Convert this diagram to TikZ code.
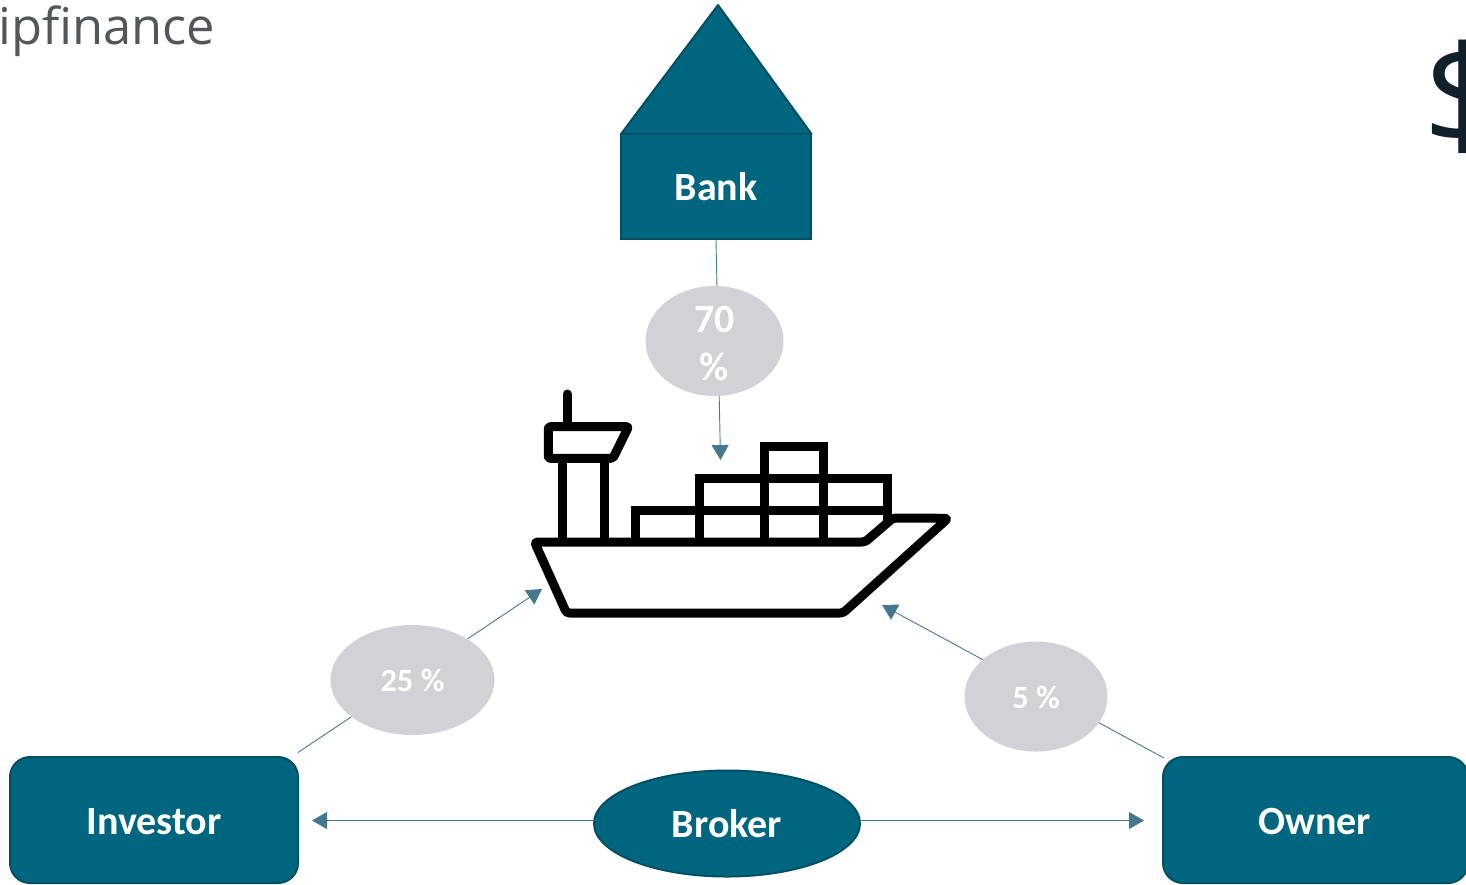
\documentclass[tikz,border=0pt]{standalone}
\usepackage{fontspec}
\setmainfont{Carlito}
\newfontfamily\titlefont{Open Sans}
\usetikzlibrary{arrows.meta,shapes.geometric}
\definecolor{teal}{HTML}{00667F}
\definecolor{tealdark}{HTML}{004F63}
\definecolor{linkc}{HTML}{45788F}
\definecolor{pill}{HTML}{D1D1D6}
\definecolor{titlec}{HTML}{53565A}
\definecolor{dollar}{HTML}{10212B}
\tikzset{
  actor/.style={draw=tealdark,line width=2pt,fill=teal,text=white,inner sep=0pt,anchor=center},
  actortext/.style={text=white,font=\fontsize{40}{40}\selectfont\bfseries,inner sep=0pt},
  pct/.style={ellipse,fill=pill,inner sep=0pt},
  pcttext/.style={text=white,font=\fontsize{32.5}{32.5}\selectfont\bfseries,inner sep=0pt},
  link/.style={draw=linkc,line width=0.9pt},
  tip/.style={-{Triangle[width=17pt,length=15pt,color=linkc]}},
  hull/.style={draw=black,line width=9pt,line join=round,line cap=round}
}
\begin{document}
\begin{tikzpicture}[x=1pt,y=-1pt]
\useasboundingbox (0,0) rectangle (1466,884);
\clip (0,0) rectangle (1466,884);
% anchors
\coordinate (shipTop) at (720.5,460);
\coordinate (shipLeft) at (542,589);
\coordinate (shipRight) at (882,605);
\coordinate (invEnd) at (298,752.5);
\coordinate (ownEnd) at (1164,758);
\coordinate (invTip) at (312,820.5);
\coordinate (ownTip) at (1144,820.5);
% texts
\node[anchor=base west,inner sep=0pt,text=titlec,font=\titlefont\fontsize{50.7}{50.7}\selectfont] (ttl) at (-2,44) {ipfinance};
\node[anchor=base west,inner sep=0pt,text=dollar,font=\titlefont\fontsize{139}{139}\selectfont] (usd) at (1423,145.5) {\$};
% bank
\draw[tealdark,line width=2pt,fill=teal,line join=round] (718,5) -- (811.5,134) -- (621,134) -- cycle;
\node[actor,minimum width=190pt,minimum height=105pt] (bank) at (716,186.5) {};
\node[actortext] (banktext) at (716,186.5) {Bank};
% actors
\node[actor,rounded corners=20pt,minimum width=288pt,minimum height=126pt] (investor) at (154,820) {};
\node[actortext] (investortext) at (154,822) {Investor};
\node[actor,rounded corners=20pt,minimum width=305pt,minimum height=126pt] (owner) at (1315.5,820) {};
\node[actortext] (ownertext) at (1314.5,822) {Owner};
\node[actor,ellipse,minimum width=266pt,minimum height=106pt] (broker) at (727,823.5) {};
\node[actortext] (brokertext) at (727,824) {Broker};
% connectors
\draw[link,tip] (bank.south) -- (shipTop);
\draw[link,tip] (invEnd) -- (shipLeft);
\draw[link,tip] (ownEnd) -- (shipRight);
\draw[link,tip] (broker.west |- invTip) -- (invTip);
\draw[link,tip] (broker.east |- ownTip) -- (ownTip);
% pills
\node[pct,minimum width=138pt,minimum height=110pt] (p70) at (714.5,341) {};
\node[pct,minimum width=164pt,minimum height=110pt] (p25) at (412.5,680) {};
\node[pct,minimum width=143pt,minimum height=110pt] (p5) at (1036,696.5) {};
\node[text=white,font=\fontsize{40}{48}\selectfont\bfseries,align=center,inner sep=0pt] (t70) at (714.5,343.5) {70\\\%};
\node[pcttext] (t25) at (412.5,680) {25 \%};
\node[pcttext] (t5) at (1036,697) {5 \%};
% ship
\draw[hull,rounded corners=3pt] (534.5,542) -- (865,542) -- (893,518) -- (948,518.3) -- (843,613) -- (566.5,613) -- cycle;
\draw[hull] (567,394) -- (567,426);
\draw[hull,rounded corners=2pt] (548.3,426.7) -- (628.5,426.7) -- (613,458.3) -- (548.3,458.3) -- cycle;
\draw[hull,line cap=butt] (562.7,458) -- (562.7,541);
\draw[hull,line cap=butt] (604,458) -- (604,541);
\draw[hull,line cap=butt,line join=miter] (635.7,541) -- (635.7,510) -- (887.3,510);
\draw[hull,line cap=butt,line join=miter] (699.7,541) -- (699.7,478.3) -- (887.3,478.3) -- (887.3,520);
\draw[hull,line cap=butt,line join=miter] (764,541) -- (764,446.3) -- (823.3,446.3) -- (823.3,541);
\end{tikzpicture}
\end{document}
